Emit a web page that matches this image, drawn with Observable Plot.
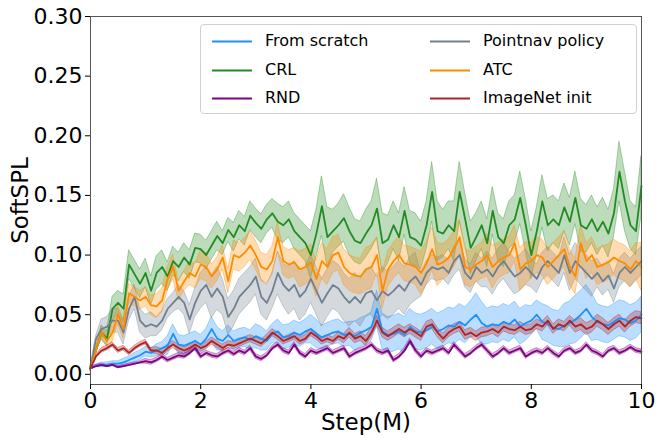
<!DOCTYPE html>
<html>
<head>
<meta charset="utf-8">
<script src="https://cdn.jsdelivr.net/npm/d3@7"></script>
<script src="https://cdn.jsdelivr.net/npm/@observablehq/plot@0.6"></script>
<style>
  html, body { margin: 0; padding: 0; background: #fff; }
  #wrap { position: relative; width: 664px; height: 443px; font-family: "DejaVu Sans", sans-serif; }
  #legend { position: absolute; left: 200px; top: 24px; width: 437px; height: 90px; box-sizing: border-box;
            border: 1px solid #d0d0d0; border-radius: 4px; background: rgba(255,255,255,0.85); }
  .item { position: absolute; font-size: 16px; color: #000; white-space: nowrap; line-height: 18px; height: 18px; }
  .sw { position: absolute; left: 0; top: 0; }
  .lbl { position: absolute; left: 54px; top: 0; }
</style>
</head>
<body>
<div id="wrap"><div id="legend"></div></div>
<script>
// ---- data (Step in millions, SoftSPL) ----
const seriesNames = ["From scratch", "CRL", "RND", "Pointnav policy", "ATC", "ImageNet init"];
const seriesColors = ["#1e90ff", "#228b22", "#800080", "#708090", "#ff8c00", "#b22222"];

const fromScratch = [0.005,0.007,0.008,0.008,0.009,0.009,0.010,0.012,0.014,0.016,
  0.019,0.018,0.020,0.022,0.024,0.034,0.025,0.024,0.026,0.028,
  0.025,0.030,0.038,0.030,0.028,0.033,0.028,0.030,0.031,0.029,
  0.032,0.030,0.028,0.034,0.036,0.031,0.032,0.035,0.033,0.036,
  0.038,0.034,0.031,0.033,0.035,0.036,0.033,0.034,0.032,0.035,
  0.037,0.040,0.055,0.036,0.033,0.034,0.036,0.033,0.040,0.036,
  0.035,0.037,0.040,0.036,0.038,0.041,0.040,0.044,0.041,0.046,
  0.050,0.043,0.040,0.042,0.041,0.044,0.042,0.046,0.040,0.043,
  0.045,0.050,0.044,0.042,0.039,0.038,0.041,0.043,0.046,0.050,
  0.055,0.048,0.044,0.042,0.041,0.044,0.047,0.046,0.043,0.045,0.050];

const crl = [0.005,0.020,0.035,0.030,0.055,0.060,0.055,0.092,0.084,0.076,
  0.085,0.070,0.085,0.090,0.082,0.095,0.090,0.098,0.092,0.106,
  0.105,0.100,0.108,0.116,0.110,0.121,0.115,0.125,0.120,0.133,
  0.127,0.122,0.130,0.135,0.128,0.125,0.130,0.120,0.115,0.110,
  0.100,0.118,0.141,0.115,0.120,0.125,0.131,0.120,0.112,0.110,
  0.118,0.125,0.139,0.110,0.113,0.125,0.115,0.137,0.115,0.113,
  0.108,0.125,0.153,0.120,0.118,0.125,0.120,0.153,0.130,0.106,
  0.115,0.125,0.110,0.137,0.115,0.110,0.125,0.130,0.148,0.125,
  0.100,0.120,0.145,0.125,0.130,0.125,0.140,0.128,0.148,0.125,
  0.122,0.130,0.120,0.128,0.118,0.135,0.170,0.145,0.125,0.120,0.158];

const rnd = [0.005,0.007,0.008,0.007,0.008,0.006,0.007,0.008,0.009,0.010,
  0.011,0.010,0.012,0.015,0.012,0.014,0.016,0.015,0.018,0.022,
  0.015,0.018,0.016,0.015,0.018,0.020,0.017,0.020,0.018,0.022,
  0.015,0.013,0.016,0.022,0.025,0.020,0.018,0.025,0.018,0.015,
  0.020,0.018,0.020,0.022,0.018,0.020,0.022,0.015,0.018,0.020,
  0.022,0.025,0.020,0.018,0.020,0.012,0.015,0.020,0.028,0.020,
  0.015,0.020,0.018,0.020,0.022,0.018,0.025,0.020,0.015,0.018,
  0.022,0.025,0.020,0.015,0.018,0.022,0.018,0.020,0.022,0.015,
  0.018,0.020,0.018,0.022,0.018,0.015,0.020,0.022,0.018,0.020,
  0.025,0.020,0.018,0.015,0.020,0.022,0.018,0.020,0.023,0.020,0.019];

const pointnav = [0.005,0.030,0.038,0.040,0.045,0.045,0.035,0.055,0.065,0.045,
  0.040,0.042,0.040,0.045,0.055,0.060,0.065,0.060,0.046,0.060,
  0.070,0.075,0.065,0.072,0.065,0.048,0.055,0.065,0.070,0.075,
  0.082,0.065,0.060,0.070,0.085,0.075,0.070,0.075,0.065,0.070,
  0.080,0.070,0.060,0.068,0.075,0.072,0.065,0.060,0.065,0.060,
  0.068,0.070,0.062,0.070,0.066,0.070,0.075,0.070,0.078,0.082,
  0.075,0.085,0.090,0.088,0.090,0.085,0.095,0.100,0.085,0.080,
  0.090,0.085,0.088,0.082,0.090,0.095,0.088,0.082,0.085,0.090,
  0.085,0.080,0.090,0.095,0.090,0.085,0.100,0.085,0.095,0.090,
  0.085,0.080,0.085,0.078,0.083,0.072,0.085,0.090,0.085,0.090,0.095];

const atc = [0.005,0.020,0.035,0.028,0.035,0.050,0.038,0.068,0.065,0.062,
  0.065,0.058,0.057,0.062,0.080,0.090,0.070,0.078,0.085,0.082,
  0.092,0.090,0.082,0.088,0.098,0.078,0.100,0.098,0.102,0.108,
  0.100,0.090,0.088,0.095,0.115,0.095,0.092,0.094,0.088,0.090,
  0.094,0.080,0.095,0.090,0.100,0.102,0.090,0.085,0.083,0.082,
  0.088,0.090,0.100,0.070,0.088,0.095,0.100,0.093,0.092,0.090,
  0.085,0.093,0.105,0.092,0.094,0.098,0.105,0.115,0.090,0.088,
  0.092,0.095,0.100,0.090,0.095,0.098,0.100,0.110,0.088,0.093,
  0.095,0.100,0.098,0.090,0.095,0.100,0.105,0.090,0.082,0.110,
  0.095,0.100,0.090,0.092,0.094,0.098,0.095,0.093,0.088,0.095,0.090];

const imagenet = [0.005,0.015,0.020,0.022,0.025,0.020,0.022,0.018,0.022,0.025,
  0.027,0.020,0.020,0.018,0.022,0.025,0.022,0.020,0.022,0.025,
  0.022,0.024,0.028,0.025,0.022,0.025,0.024,0.026,0.028,0.030,
  0.028,0.026,0.030,0.035,0.032,0.028,0.030,0.032,0.028,0.030,
  0.035,0.032,0.028,0.030,0.028,0.032,0.030,0.035,0.030,0.032,
  0.028,0.035,0.045,0.035,0.032,0.035,0.038,0.035,0.038,0.035,
  0.032,0.040,0.042,0.035,0.030,0.035,0.038,0.040,0.033,0.035,
  0.032,0.035,0.036,0.038,0.035,0.040,0.038,0.037,0.040,0.037,
  0.038,0.042,0.040,0.045,0.038,0.042,0.040,0.045,0.040,0.042,
  0.038,0.040,0.045,0.042,0.038,0.042,0.045,0.040,0.045,0.048,0.047];

// band half-widths, one value per 0.2 M
const fromScratchW = [0.001,0.002,0.002,0.003,0.004,0.004,0.005,0.008,0.008,0.008,
  0.008,0.010,0.008,0.008,0.008,0.010,0.008,0.010,0.010,0.010,
  0.012,0.010,0.010,0.010,0.012,0.012,0.015,0.015,0.015,0.015,
  0.015,0.015,0.015,0.015,0.015,0.018,0.015,0.015,0.015,0.015,
  0.012,0.015,0.015,0.018,0.020,0.020,0.015,0.015,0.015,0.015,0.015];
const crlW = [0.002,0.006,0.010,0.012,0.012,0.012,0.014,0.012,0.012,0.012,
  0.012,0.012,0.010,0.012,0.012,0.012,0.012,0.015,0.015,0.015,
  0.020,0.025,0.018,0.020,0.018,0.020,0.025,0.020,0.020,0.022,
  0.020,0.025,0.020,0.025,0.022,0.020,0.020,0.020,0.020,0.022,
  0.020,0.022,0.020,0.020,0.022,0.020,0.020,0.020,0.025,0.020,0.025];
const rndW = [0.001,0.001,0.001,0.001,0.001,0.002,0.002,0.002,0.002,0.002,
  0.002,0.002,0.002,0.002,0.002,0.002,0.002,0.002,0.002,0.002,
  0.002,0.002,0.002,0.002,0.002,0.002,0.002,0.002,0.002,0.002,
  0.002,0.002,0.002,0.002,0.002,0.002,0.002,0.002,0.002,0.002,
  0.002,0.002,0.002,0.002,0.002,0.002,0.002,0.002,0.002,0.002,0.002];
const pointnavW = [0.002,0.008,0.010,0.010,0.010,0.010,0.008,0.008,0.010,0.012,
  0.015,0.018,0.015,0.015,0.015,0.015,0.015,0.018,0.020,0.020,
  0.020,0.020,0.020,0.020,0.020,0.020,0.020,0.020,0.020,0.020,
  0.010,0.010,0.010,0.012,0.012,0.012,0.015,0.015,0.015,0.015,
  0.012,0.012,0.012,0.015,0.015,0.015,0.012,0.012,0.012,0.012,0.012];
const atcW = [0.002,0.005,0.008,0.008,0.008,0.008,0.010,0.010,0.008,0.010,
  0.012,0.010,0.010,0.012,0.012,0.012,0.012,0.012,0.012,0.015,
  0.015,0.015,0.015,0.015,0.015,0.018,0.015,0.015,0.015,0.015,
  0.018,0.018,0.015,0.015,0.015,0.015,0.018,0.015,0.015,0.018,
  0.015,0.015,0.015,0.015,0.015,0.015,0.015,0.015,0.015,0.015,0.020];
const imagenetW = [0.001,0.002,0.002,0.002,0.002,0.002,0.003,0.003,0.003,0.003,
  0.003,0.003,0.003,0.003,0.003,0.003,0.003,0.003,0.003,0.003,
  0.003,0.003,0.003,0.004,0.004,0.004,0.004,0.004,0.004,0.004,
  0.004,0.004,0.004,0.004,0.004,0.004,0.004,0.004,0.004,0.004,
  0.004,0.004,0.004,0.004,0.005,0.005,0.005,0.005,0.005,0.005,0.005];

const xTicks = [0, 2, 4, 6, 8, 10];
const yTicks = [0.00, 0.05, 0.10, 0.15, 0.20, 0.25, 0.30];

// ---- build table ----
const means = [fromScratch, crl, rnd, pointnav, atc, imagenet];
const widths = [fromScratchW, crlW, rndW, pointnavW, atcW, imagenetW];
const rows = [];
seriesNames.forEach((name, s) => {
  means[s].forEach((v, i) => {
    const w = widths[s][Math.floor(i / 2)];
    rows.push({series: name, step: i / 10, v, lo: v - w, hi: v + w});
  });
});

const color = {domain: seriesNames, range: seriesColors};

const chart = Plot.plot({
  width: 664,
  height: 443,
  marginLeft: 90,
  marginRight: 23,
  marginTop: 16,
  marginBottom: 59,
  style: {fontFamily: "DejaVu Sans, sans-serif", fontSize: "22px", background: "#fff", color: "#000"},
  x: {domain: [0, 10]},
  y: {domain: [-0.0085, 0.30]},
  color,
  marks: [
    Plot.areaY(rows, {x: "step", y1: "lo", y2: "hi", z: "series", fill: "series", fillOpacity: 0.3,
      stroke: "series", strokeOpacity: 0.45, strokeWidth: 0.8}),
    Plot.lineY(rows, {x: "step", y: "v", z: "series", stroke: "series", strokeWidth: 1.8}),
    Plot.frame({stroke: "#555", strokeWidth: 1}),
    Plot.axisX({ticks: xTicks, tickFormat: d => String(d), tickSize: 5, tickPadding: 3, fontSize: 22,
      label: null}),
    Plot.axisX({ticks: [], label: "Step(M)", labelAnchor: "center", labelArrow: "none", labelOffset: 45, fontSize: 23}),
    Plot.axisY({ticks: yTicks, tickFormat: d => d.toFixed(2), tickSize: 5, tickPadding: 3, fontSize: 22,
      label: null}),
    Plot.axisY({ticks: [], label: "SoftSPL", labelAnchor: "center", labelArrow: "none", labelOffset: 79, fontSize: 23})
  ]
});
document.getElementById("wrap").prepend(chart);

// legend (HTML overlay)
const legend = document.getElementById("legend");
const NS = "http://www.w3.org/2000/svg";
seriesNames.forEach((name, i) => {
  const col = i < 3 ? 0 : 1;
  const row = i % 3;
  const item = document.createElement("div");
  item.className = "item";
  item.style.left = (col === 0 ? 10 : 228) + "px";
  item.style.top = (7 + row * 28.5) + "px";
  const sw = document.createElementNS(NS, "svg");
  sw.setAttribute("class", "sw");
  sw.setAttribute("width", "42");
  sw.setAttribute("height", "18");
  const ln = document.createElementNS(NS, "line");
  ln.setAttribute("x1", "1"); ln.setAttribute("x2", "41");
  ln.setAttribute("y1", "9.5"); ln.setAttribute("y2", "9.5");
  ln.setAttribute("stroke", seriesColors[i]);
  ln.setAttribute("stroke-width", "1.8");
  sw.append(ln);
  const lb = document.createElement("span");
  lb.className = "lbl";
  lb.textContent = name;
  item.append(sw, lb);
  legend.append(item);
});
</script>
</body>
</html>
